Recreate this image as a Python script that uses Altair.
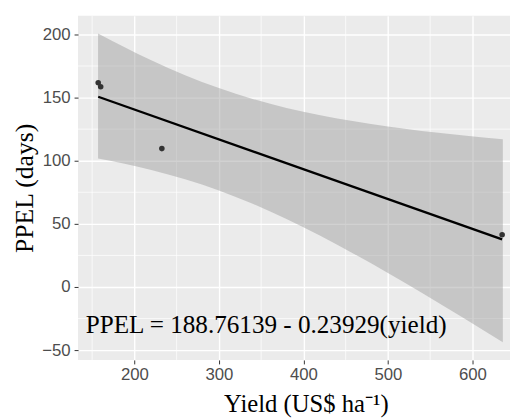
import altair as alt
import pandas as pd

# observed points
yield_x = [157.2, 160.1, 232.5, 635.2]
ppel_y = [161.7, 158.6, 109.6, 41.4]

# confidence band
band_x = [157, 220, 260, 300, 340, 380, 420, 460, 500, 540, 590, 636]
band_lo = [101.7, 92.7, 85.3, 76.5, 65.9, 53.8, 40.5, 26.2, 11.1, -4.6, -24.8, -43.7]
band_hi = [200.7, 179.5, 167.7, 157.5, 148.9, 141.8, 136.0, 131.2, 127.1, 123.6, 120.0, 116.9]

x_major = [200, 300, 400, 500, 600]
y_major = [-50, 0, 50, 100, 150, 200]
x_minor = [150, 250, 350, 450, 550]
y_minor = [-25, 25, 75, 125, 175]

eq_label = ["PPEL = 188.76139 - 0.23929(yield)"]
eq_x = [142.5]
eq_y = [-30.5]

XDOM = [133.3, 644.5]
YDOM = [-57.8, 214.8]

pts = pd.DataFrame({"x": yield_x, "y": ppel_y})
band = pd.DataFrame({"x": band_x, "lo": band_lo, "hi": band_hi})
xm = pd.DataFrame({"v": x_minor})
ym = pd.DataFrame({"v": y_minor})
eq = pd.DataFrame({"label": eq_label, "x": eq_x, "y": eq_y})

xscale = alt.Scale(domain=XDOM, nice=False, zero=False)
yscale = alt.Scale(domain=YDOM, nice=False, zero=False)

xaxis = alt.Axis(values=x_major, title="Yield (US$ ha⁻¹)", grid=True, gridColor="white",
                 gridWidth=1.4, domain=False, tickColor="#333333", tickSize=4,
                 labelColor="#4D4D4D", labelFont="Liberation Sans", labelFontSize=17,
                 labelPadding=3, titleFont="Liberation Serif", titleFontSize=25,
                 titleFontWeight="normal", titleColor="black", titleX=231, titleY=52,
                 titleBaseline="alphabetic")
yaxis = alt.Axis(values=y_major, title="PPEL (days)", grid=True, gridColor="white",
                 gridWidth=1.4, domain=False, tickColor="#333333", tickSize=4,
                 labelColor="#4D4D4D", labelFont="Liberation Sans", labelFontSize=17,
                 labelPadding=4, titleFont="Liberation Serif", titleFontSize=26,
                 titleFontWeight="normal", titleColor="black", titleX=-46,
                 titleBaseline="alphabetic")

minor_x = alt.Chart(xm).mark_rule(color="white", strokeWidth=0.7).encode(
    x=alt.X("v:Q", scale=xscale, axis=xaxis))
minor_y = alt.Chart(ym).mark_rule(color="white", strokeWidth=0.7).encode(
    y=alt.Y("v:Q", scale=yscale, axis=yaxis))

area = alt.Chart(band).mark_area(color="#999999", opacity=0.45, interpolate="monotone").encode(
    x=alt.X("x:Q", scale=xscale), y=alt.Y("lo:Q", scale=yscale), y2="hi:Q")

line = alt.Chart(pts).transform_regression("x", "y").mark_line(
    color="black", strokeWidth=2.4).encode(
    x=alt.X("x:Q", scale=xscale), y=alt.Y("y:Q", scale=yscale))

points = alt.Chart(pts).mark_circle(color="#333333", opacity=1, size=32).encode(
    x=alt.X("x:Q", scale=xscale), y=alt.Y("y:Q", scale=yscale))

text = alt.Chart(eq).mark_text(align="left", baseline="middle", font="Liberation Serif",
                               fontSize=25.5, color="black").encode(
    x=alt.X("x:Q", scale=xscale), y=alt.Y("y:Q", scale=yscale), text="label:N")

chart = alt.layer(minor_x, minor_y, area, line, points, text).properties(
    width=438, height=349,
    background="white",
    autosize=alt.AutoSizeParams(type="none"),
    padding={"left": 71, "top": 5, "right": 0, "bottom": 57},
).configure_view(fill="#EBEBEB", strokeWidth=0)

chart.save("out.html", embed_options={"renderer": "svg", "actions": False})
